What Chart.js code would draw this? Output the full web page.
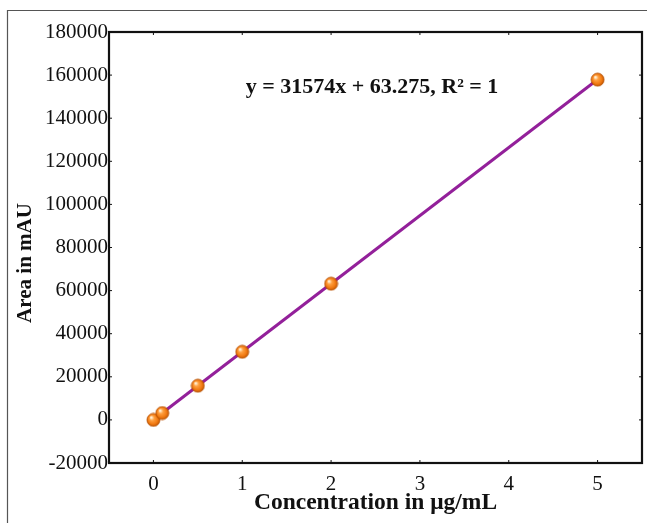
<!DOCTYPE html>
<html>
<head>
<meta charset="utf-8">
<script src="https://cdn.jsdelivr.net/npm/chart.js@4/dist/chart.umd.min.js"></script>
<style>
    html, body { margin: 0; padding: 0; background: #fff; overflow: hidden; }
    /* a few px wider than the window: Chart.js keeps room for the end markers */
    #wrap { width: 650px; height: 523px; }
</style>
</head>
<body>
<div id="wrap"><canvas id="calChart"></canvas></div>
<script>
// ======================================
// DATA
// ======================================
const concentrations = [0, 0.1, 0.5, 1, 2, 5];            // µg/mL
const areas = [0, 3180, 15850, 31600, 63200, 157900];     // mAU
const slope = 31574;
const intercept = 63.275;
const fitRange = [0, 5];
const equationText = "y = 31574x + 63.275, R² = 1";
const xTitle = "Concentration in μg/mL";
const yTitle = "Area in mAU";
const xTicks = [0, 1, 2, 3, 4, 5];
const yTicks = [-20000, 0, 20000, 40000, 60000, 80000, 100000, 120000, 140000, 160000, 180000];

const serif = "'Liberation Serif', 'Times New Roman', serif";

// ======================================
// ORANGE SPHERE MARKER
// ======================================
function makeSphere(r) {
    const c = document.createElement("canvas");
    const s = r * 2 + 2;
    c.width = s;
    c.height = s;
    const g = c.getContext("2d");
    const cx = s / 2, cy = s / 2;
    const grad = g.createRadialGradient(cx - r * 0.35, cy - r * 0.4, r * 0.1, cx, cy, r);
    grad.addColorStop(0, "#fff2d8");
    grad.addColorStop(0.3, "#ffa040");
    grad.addColorStop(0.75, "#f07810");
    grad.addColorStop(1, "#c05600");
    g.beginPath();
    g.arc(cx, cy, r, 0, Math.PI * 2);
    g.fillStyle = grad;
    g.fill();
    g.lineWidth = 0.8;
    g.strokeStyle = "#b85000";
    g.stroke();
    return c;
}
const sphere = makeSphere(6.5);

// ======================================
// FRAME, MIRROR TICKS, Y TITLE AND EQUATION
// ======================================
const framePlugin = {
    id: "frame",
    beforeDraw(chart) {
        const c = chart.ctx;
        c.save();
        c.strokeStyle = "#555";
        c.lineWidth = 1.2;
        c.beginPath();
        c.moveTo(7.5, chart.height + 2);
        c.lineTo(7.5, 10.5);
        c.lineTo(chart.width + 2, 10.5);
        c.stroke();
        c.restore();
    },
    afterDraw(chart) {
        const { left, right, top, bottom } = chart.chartArea;
        const c = chart.ctx;
        const xs = chart.scales.x, ys = chart.scales.y;
        c.save();
        c.strokeStyle = "#111";
        c.lineWidth = 2.2;
        c.strokeRect(left, top, right - left, bottom - top);
        c.lineWidth = 1;
        c.beginPath();
        xTicks.forEach(v => {
            const px = xs.getPixelForValue(v);
            c.moveTo(px, top); c.lineTo(px, top + 3);
            c.moveTo(px, bottom); c.lineTo(px, bottom - 3);
        });
        yTicks.forEach(v => {
            const py = ys.getPixelForValue(v);
            c.moveTo(right, py); c.lineTo(right - 3, py);
            c.moveTo(left, py); c.lineTo(left + 3, py);
        });
        c.stroke();

        c.fillStyle = "#111";
        c.textAlign = "center";
        c.textBaseline = "middle";
        c.font = "bold 22px " + serif;
        c.fillText(equationText, 372, 87);

        // y title sits a little below the middle of the axis
        c.translate(26, 263);
        c.rotate(-Math.PI / 2);
        c.font = "bold 21px " + serif;
        c.fillText(yTitle, 0, 0);
        c.restore();
    }
};

// ======================================
// CHART INIT
// ======================================
const fitPoints = fitRange.map(x => ({ x: x, y: slope * x + intercept }));
const pointData = concentrations.map((x, i) => ({ x: x, y: areas[i] }));

const ctx = document.getElementById("calChart");
const chart = new Chart(ctx, {
    type: "scatter",
    data: {
        datasets: [
            {
                label: "Standards",
                data: pointData,
                pointStyle: sphere,
                pointRadius: 7,
                order: 1
            },
            {
                label: "Linear fit",
                type: "line",
                data: fitPoints,
                borderColor: "#93209a",
                borderWidth: 3,
                pointRadius: 0,
                fill: false,
                order: 2
            }
        ]
    },
    options: {
        responsive: true,
        maintainAspectRatio: false,
        animation: false,
        layout: { padding: { top: 32, right: 0, left: 0, bottom: 0 } },
        plugins: {
            legend: { display: false },
            tooltip: { enabled: false }
        },
        scales: {
            x: {
                type: "linear",
                min: -0.5,
                max: 5.5,
                afterBuildTicks: s => { s.ticks = xTicks.map(v => ({ value: v })); },
                afterFit: s => {
                    s.height = 60;
                    s.paddingLeft = 0;
                    s.paddingRight = 0;
                },
                grid: { display: false, drawTicks: false },
                border: { display: false },
                ticks: {
                    padding: 9,
                    color: "#111",
                    font: { family: serif, size: 21 }
                },
                title: {
                    display: true,
                    text: xTitle,
                    color: "#111",
                    font: { family: serif, size: 23.5, weight: "bold" },
                    padding: { top: 0, bottom: 6 }
                }
            },
            y: {
                type: "linear",
                min: -20000,
                max: 180000,
                afterBuildTicks: s => { s.ticks = yTicks.map(v => ({ value: v })); },
                afterFit: s => { s.width = 109; },
                grid: { display: false, drawTicks: false },
                border: { display: false },
                ticks: {
                    padding: 1,
                    color: "#111",
                    font: { family: serif, size: 21 },
                    callback: v => String(v)
                }
            }
        }
    },
    plugins: [framePlugin]
});
</script>
</body>
</html>
